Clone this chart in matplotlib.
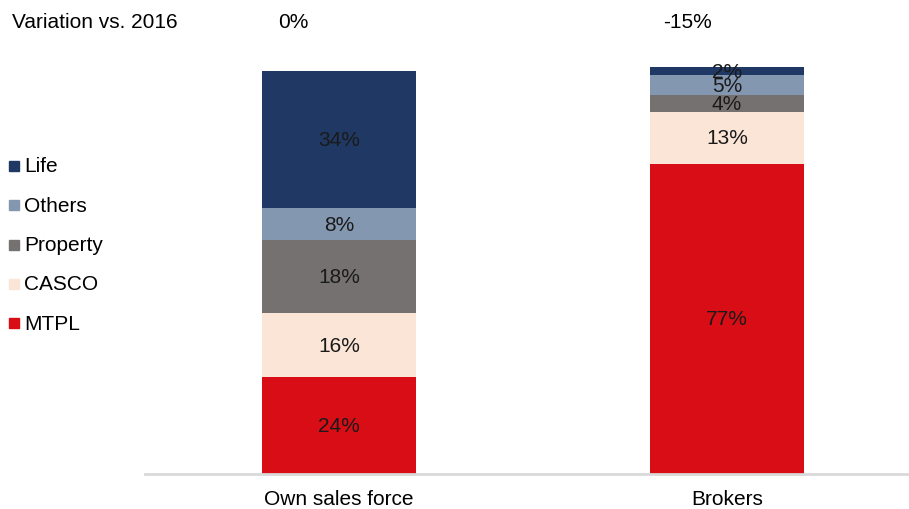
import matplotlib.pyplot as plt
from matplotlib.patches import Rectangle

# channel mix of premiums, in % per line of business
channels = ['Own sales force', 'Brokers']
variation = ['0%', '-15%']
lines = ['MTPL', 'CASCO', 'Property', 'Others', 'Life']
shares = {
    'MTPL': [24, 77],
    'CASCO': [16, 13],
    'Property': [18, 4],
    'Others': [8, 5],
    'Life': [34, 2],
}
colors = {
    'MTPL': '#d90d15',
    'CASCO': '#fbe5d6',
    'Property': '#767171',
    'Others': '#8497b0',
    'Life': '#1f3864',
}

plt.rcParams['font.family'] = ['Liberation Sans', 'DejaVu Sans']
FS = 15

W, H = 909, 510
fig = plt.figure(figsize=(W / 100, H / 100), dpi=100)
ax = fig.add_axes([145 / W, 35 / H, (W - 145) / W, 435 / H])

x = [0, 1]
bottom = [0, 0]
for name in lines:
    vals = shares[name]
    ax.bar(x, vals, width=0.397, bottom=bottom, color=colors[name], edgecolor='none')
    for i, v in enumerate(vals):
        ax.text(x[i], bottom[i] + v / 2, f'{v}%', ha='center', va='center',
                fontsize=FS, color='#1a1a1a')
    bottom = [b + v for b, v in zip(bottom, vals)]

ax.set_xlim(-0.5, 1.469)
ax.set_ylim(0, 108)
ax.set_yticks([])
ax.set_xticks(x)
ax.set_xticklabels(channels, fontsize=FS)
ax.tick_params(axis='x', length=0, pad=11)
for s in ['top', 'right', 'left']:
    ax.spines[s].set_visible(False)
ax.spines['bottom'].set_color('#d9d9d9')
ax.spines['bottom'].set_linewidth(2)

# header row
fig.text(12 / W, 1 - 23 / H, 'Variation vs. 2016', fontsize=FS, va='center', ha='left')
for xc, t in zip([293, 688], variation):
    fig.text(xc / W, 1 - 23 / H, t, fontsize=FS, va='center', ha='center')

# legend, top to bottom
for k, name in enumerate(lines[::-1]):
    yc = 167 + 39.3 * k
    fig.patches.append(Rectangle((9 / W, 1 - (yc + 5) / H), 10 / W, 10 / H,
                                 transform=fig.transFigure, color=colors[name]))
    fig.text(24 / W, 1 - yc / H, name, fontsize=FS, va='center', ha='left')

fig.savefig('out.png', dpi=100)
